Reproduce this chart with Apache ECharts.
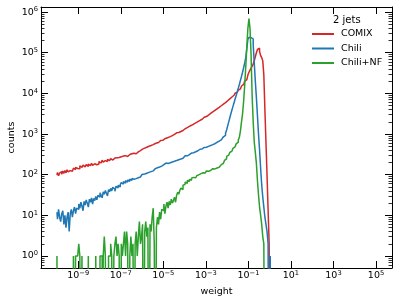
<!DOCTYPE html>
<html><head><meta charset="utf-8">
<script src="https://cdn.jsdelivr.net/npm/echarts@6/dist/echarts.min.js"></script>
<style>html,body{margin:0;padding:0;background:#fff}#c{width:398px;height:303px}</style>
</head><body><div id="c"></div>
<script>
// Histogram bins: centres in log10(weight), first at 1e-10, 0.05 decade wide
const binStartExp = -10;
const binStepExp = 0.05;

const comixCounts = [
  98,114,94,109,120,102,123,108,127,111,132,117,126,139,122,135,145,134,152,142,
  154,139,166,152,147,172,156,169,177,159,183,166,177,191,169,186,198,176,194,184,
  211,194,217,228,203,222,234,212,239,221,232,249,229,244,256,234,261,243,265,249,
  275,260,288,273,294,301,281,308,315,298,329,315,338,347,328,359,365,375,374,392,
  424,407,449,435,474,456,500,485,521,528,550,559,578,593,612,619,658,638,693,699,
  738,765,778,806,822,858,864,908,915,955,978,1010,1035,1070,1090,1142,1153,1205,1224,1278,
  1352,1396,1438,1495,1538,1610,1643,1720,1762,1845,1889,1970,2022,2104,2161,2256,2312,2414,2481,2583,
  2690,2810,2935,3070,3205,3350,3500,3660,3820,3990,4170,4360,4550,4760,4970,5190,5420,5660,5920,6190,
  6600,6960,7350,7760,8150,8510,9000,9550,10100,10650,11220,12000,12900,14000,15200,16600,18100,19800,21800,24000,
  28200,33100,37150,41700,46800,52500,63100,79400,100000,120200,128800,107000,85100,75900,63100,28200,3980,631,100,14,
  2,0,0,0,0
];
const chiliCounts = [
  12,8,14,9,7,11,13,6,10,5,9,12,4,11,14,9,13,16,11,15,
  14,19,15,21,17,13,22,18,24,20,16,25,21,27,19,26,23,29,24,31,
  28,36,31,27,38,33,41,35,30,43,38,46,40,49,44,39,52,47,55,50,
  57,64,59,68,62,71,66,74,69,78,72,81,77,85,80,89,84,93,88,98,
  101,110,104,115,109,119,114,124,119,130,124,135,130,141,136,148,143,155,150,163,
  176,186,181,193,189,201,197,209,206,218,214,227,223,236,233,246,243,257,254,270,
  280,294,291,307,312,322,330,341,347,362,366,381,388,401,409,423,431,446,452,468,
  475,496,498,520,522,546,548,572,578,601,628,654,668,705,720,764,795,856,930,1050,
  1259,1585,1995,2512,3162,3890,4786,5888,7244,8913,10965,13490,16600,20900,26300,33100,42660,56230,75860,125900,
  213800,240000,234400,229000,218800,158500,56230,19950,7943,2818,1000,398,141,56,28,16,9,6,4,2,
  0,1,0,0,0
];
const chiliNFCounts = [
  1,0,0,0,0,0,0,0,0,0,0,0,0,0,0,0,1,0,1,1,
  1,2,1,0,1,0,0,0,0,0,1,0,0,0,0,0,0,1,0,0,
  0,1,1,0,1,3,1,0,0,1,1,2,1,0,1,2,3,1,2,1,
  0,2,1,2,4,1,4,2,0,1,3,1,2,0,2,4,1,3,7,2,
  3,6,0,4,7,3,5,0,6,4,9,15,2,0,5,9,6,12,8,14,
  13,19,11,17,21,15,22,18,25,20,23,28,21,31,37,33,41,47,43,55,
  58,66,61,72,68,77,73,82,79,86,89,84,95,92,100,97,106,103,112,110,
  118,124,121,130,127,136,132,141,139,148,146,155,152,162,168,177,190,205,224,246,
  282,305,328,352,378,410,447,485,525,575,631,720,832,1200,2000,3160,6310,15850,44670,141000,
  398000,692000,398000,89100,8900,2000,631,355,190,71,32,16,10,6,3,2,0,0,0,0,
  0,0,0,0,0
];

const seriesNames = ['COMIX', 'Chili', 'Chili+NF'];
const seriesColors = ['#d62728', '#1f77b4', '#2ca02c'];
const xTickExps = [-9, -7, -5, -3, -1, 1, 3, 5];
const yTickExps = [0, 1, 2, 3, 4, 5, 6];
const legendTitle = '2 jets';
const xName = 'weight';
const yName = 'counts';

const X_MIN = -10.75, X_MAX = 5.75;
const Y_MIN = Math.log10(0.507), Y_MAX = 6.125;
const FLOOR = -5; // empty bins drawn below the axis (clipped)

function toPoints(counts) {
  return counts.map((c, i) => [+(binStartExp + i * binStepExp).toFixed(3), c > 0 ? Math.log10(c) : FLOOR]);
}

const yMinor = [];
for (let n = -1; n <= 6; n++) {
  for (let k = 2; k <= 9; k++) {
    const v = n + Math.log10(k);
    if (v > Y_MIN && v < Y_MAX) yMinor.push(v);
  }
}

const FONT = 'DejaVu Sans';
const supLabel = v => { const e = Math.round(v); return '10{e|' + (e < 0 ? '\u2212' + (-e) : e) + '}'; };
const labelBase = {
  fontFamily: FONT, fontSize: 9.5, color: '#000', lineHeight: 12,
  rich: { e: { fontFamily: FONT, fontSize: 6.7, lineHeight: 7, verticalAlign: 'top', color: '#000' } }
};
const lineBlack = { color: '#000', width: 1 };

function xAx(pos, labels) {
  return {
    type: 'value', min: X_MIN, max: X_MAX, position: pos,
    axisLine: { show: true, onZero: false, lineStyle: lineBlack },
    axisTick: { show: true, inside: true, length: 7, customValues: xTickExps, lineStyle: lineBlack },
    axisLabel: labels ? Object.assign({ show: true, customValues: xTickExps, formatter: supLabel, margin: 2 }, labelBase) : { show: false },
    splitLine: { show: false },
    name: labels ? xName : '', nameLocation: 'middle', nameGap: 16,
    nameTextStyle: { fontFamily: FONT, fontSize: 9.5, color: '#000' }
  };
}
function yAx(pos, major, labels) {
  return {
    type: 'value', min: Y_MIN, max: Y_MAX, position: pos,
    axisLine: { show: major, onZero: false, lineStyle: lineBlack },
    axisTick: { show: true, inside: true, length: major ? 7 : 3.5, customValues: major ? yTickExps : yMinor, lineStyle: { color: '#000', width: major ? 1 : 0.8 } },
    axisLabel: labels ? Object.assign({ show: true, customValues: yTickExps, formatter: supLabel, margin: 3 }, labelBase) : { show: false },
    splitLine: { show: false },
    name: labels ? yName : '', nameLocation: 'middle', nameGap: 24, nameMoveOverlap: false,
    nameTextStyle: { fontFamily: FONT, fontSize: 9.5, color: '#000' }
  };
}

const allCounts = [comixCounts, chiliCounts, chiliNFCounts];
const chart = echarts.init(document.getElementById('c'), null, { renderer: 'canvas' });
chart.setOption({
  animation: false,
  backgroundColor: '#fff',
  title: { text: legendTitle, left: 333, top: 15, padding: 0,
    textStyle: { fontFamily: FONT, fontSize: 10, fontWeight: 'normal', color: '#000' } },
  legend: {
    data: seriesNames, orient: 'vertical', left: 311, top: 29, padding: 0,
    itemWidth: 22, itemHeight: 10, itemGap: 4.5,
    itemStyle: { opacity: 0 },
    textStyle: { fontFamily: FONT, fontSize: 9.5, color: '#000', padding: [0, 0, 0, 2] }
  },
  grid: { left: 41, top: 7, right: 6, bottom: 35, containLabel: false, outerBoundsMode: 'none' },
  xAxis: [xAx('bottom', true), xAx('top', false)],
  yAxis: [yAx('left', true, true), yAx('left', false, false), yAx('right', true, false), yAx('right', false, false)],
  series: allCounts.map((counts, i) => ({
    type: 'line', name: seriesNames[i], xAxisIndex: 0, yAxisIndex: 0,
    data: toPoints(counts), step: 'middle', symbol: 'none', showSymbol: false,
    clip: true, lineStyle: { color: seriesColors[i], width: 1.5 }, itemStyle: { color: seriesColors[i] },
    z: 2 + i
  }))
});
</script>
</body></html>
